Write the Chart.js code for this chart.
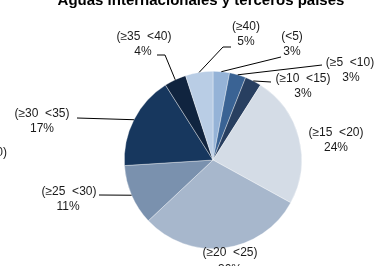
<!DOCTYPE html>
<html>
<head>
<meta charset="utf-8">
<script src="https://cdn.jsdelivr.net/npm/chart.js@4.4.0/dist/chart.umd.min.js"></script>
<style>
  html, body { margin: 0; padding: 0; background: #fff; }
  #wrap { width: 378px; height: 266px; position: relative; }
</style>
</head>
<body>
<div id="wrap"><canvas id="pie"></canvas></div>
<script>
// Data
const categories = ['(<5)', '(≥5  <10)', '(≥10  <15)', '(≥15  <20)', '(≥20  <25)', '(≥25  <30)', '(≥30  <35)', '(≥35  <40)', '(≥40)'];
const shares = [3, 3, 3, 24, 30, 11, 17, 4, 5];
const title = 'Aguas internacionales y terceros países';

// Styles
const colors = ['#95b3d7', '#3a6394', '#283f60', '#d4dce6', '#a7b7cc', '#7a91ae', '#17375e', '#10243f', '#b9cde5'];
const FONT = '"Liberation Sans", Arial, sans-serif';

// label placement: text centre, optional second line offset, leader line bend points
const labelLayout = [
  { x: 292, y: 37, line: [[281, 57]] },
  { x: 350, y: 63, dx2: 1, line: [[322, 65]] },
  { x: 303, y: 79, line: [[271, 82]] },
  { x: 336, y: 133 },
  { x: 230, y: 253, dy2: 17 },
  { x: 69, y: 192, dx2: -1, line: [[99, 195]] },
  { x: 42, y: 114, line: [[77, 118]] },
  { x: 144, y: 37, dx2: -1, line: [[165, 55], [157, 55]] },
  { x: 246, y: 27, line: [[223, 47], [231, 47]] }
];

const labelPlugin = {
  id: 'pieLabels',
  afterDatasetsDraw(chart) {
    const ctx = chart.ctx;
    const arcs = chart.getDatasetMeta(0).data;
    ctx.save();
    // title (cut by the top edge in the original)
    ctx.font = 'bold 15px ' + FONT;
    ctx.fillStyle = '#000';
    ctx.textAlign = 'center';
    ctx.textBaseline = 'alphabetic';
    ctx.fillText(title, 201, 4.5);

    // fragment of a neighbouring label at the left edge
    ctx.font = '12px ' + FONT;
    ctx.fillStyle = '#1a1a1a';
    ctx.textAlign = 'right';
    ctx.textBaseline = 'middle';
    ctx.fillText('(≥35  <40)', 7, 153);

    ctx.textAlign = 'center';
    arcs.forEach((arc, i) => {
      const lay = labelLayout[i];
      const { startAngle, endAngle, outerRadius, x, y } = arc.getProps(['startAngle', 'endAngle', 'outerRadius', 'x', 'y'], true);
      if (lay.line) {
        const mid = (startAngle + endAngle) / 2;
        ctx.beginPath();
        ctx.moveTo(x + Math.cos(mid) * outerRadius, y + Math.sin(mid) * outerRadius);
        lay.line.forEach(p => ctx.lineTo(p[0], p[1]));
        ctx.strokeStyle = '#000';
        ctx.lineWidth = 1;
        ctx.stroke();
      }
      ctx.fillStyle = '#1a1a1a';
      ctx.fillText(categories[i], lay.x, lay.y);
      ctx.fillText(shares[i] + '%', lay.x + (lay.dx2 || 0), lay.y + (lay.dy2 || 15));
    });
    ctx.restore();
  }
};

new Chart(document.getElementById('pie'), {
  type: 'pie',
  data: {
    labels: categories,
    datasets: [{
      data: shares,
      backgroundColor: colors,
      borderColor: 'rgba(255,255,255,0.6)',
      borderWidth: 0.6
    }]
  },
  options: {
    responsive: true,
    maintainAspectRatio: false,
    animation: false,
    layout: { padding: { top: 71, bottom: 17, left: 124, right: 76 } },
    plugins: {
      legend: { display: false },
      tooltip: { enabled: false }
    }
  },
  plugins: [labelPlugin]
});
</script>
</body>
</html>
